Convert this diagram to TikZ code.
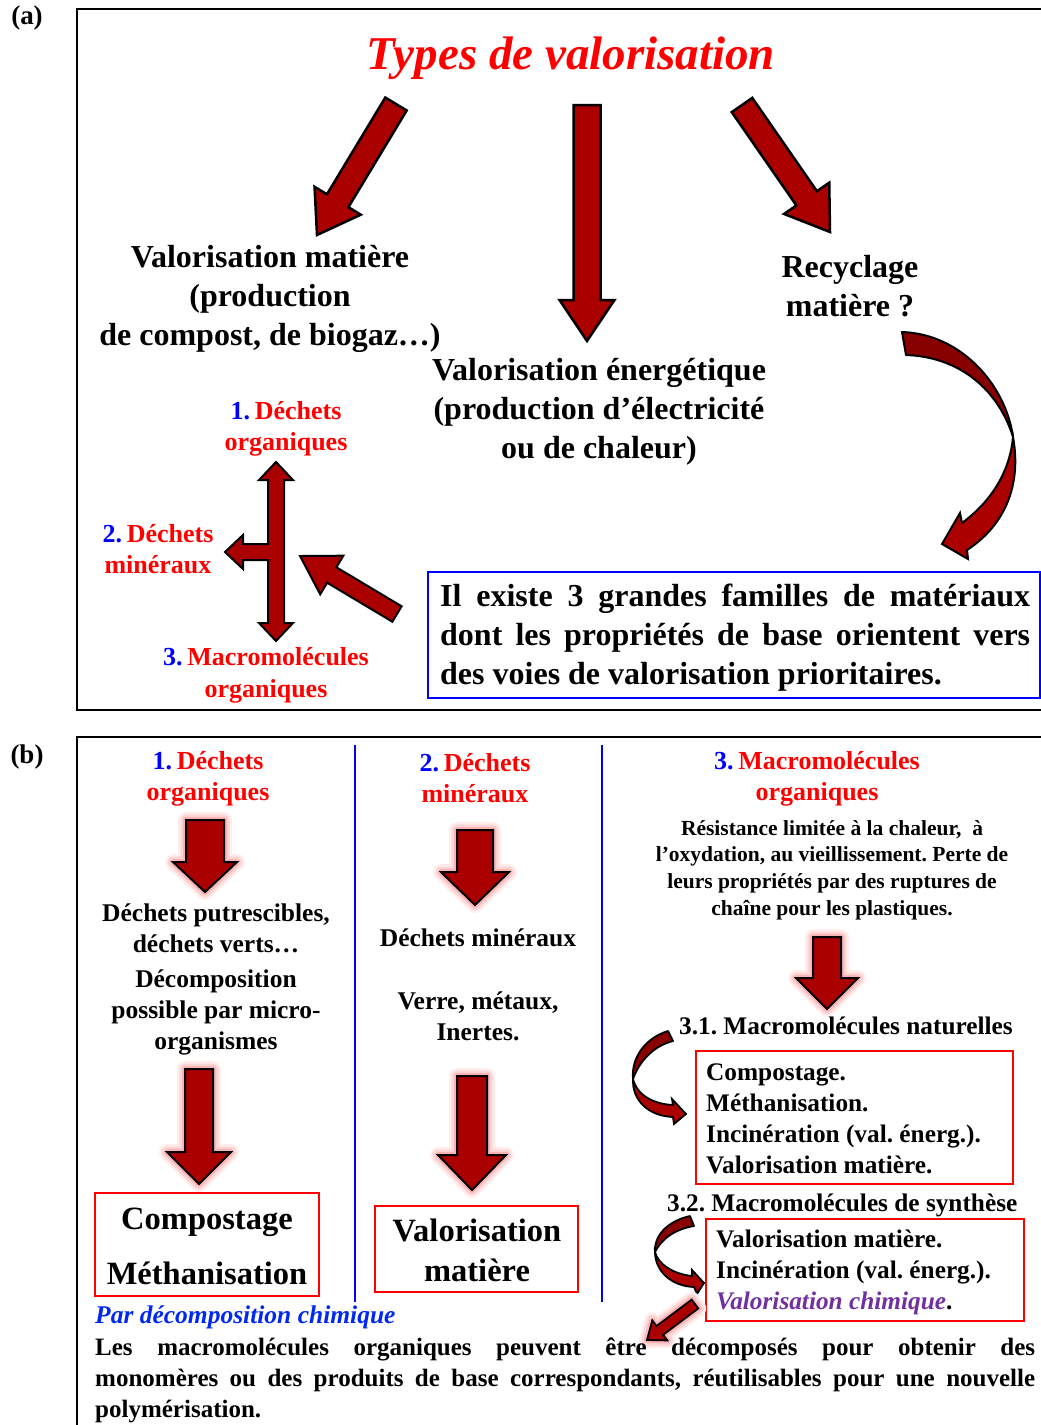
\documentclass[tikz,border=0pt]{standalone}
\usepackage{fontspec}
\setmainfont{Liberation Serif}
\usetikzlibrary{calc}
\frenchspacing

\definecolor{arrowred}{RGB}{170,0,0}
\definecolor{arrowdark}{RGB}{136,0,0}
\definecolor{txtred}{RGB}{255,0,0}
\definecolor{txtblue}{RGB}{0,0,255}
\definecolor{linkblue}{RGB}{0,40,240}
\definecolor{chimpurple}{RGB}{112,48,160}
\definecolor{glowA}{RGB}{255,236,236}
\definecolor{glowB}{RGB}{253,212,212}
\definecolor{glowC}{RGB}{250,180,180}

\newcommand{\nb}[1]{\textcolor{txtblue}{#1}\hspace{0.18em}}

% straight block arrow: [style]{from}{to}{half shaft}{half head}{head length}
\newcommand{\blockarrow}[6][]{%
  \path let \p1=($(#3)-(#2)$), \n1={atan2(\y1,\x1)}, \n2={veclen(\x1,\y1)} in
    \pgfextra{\xdef\baang{\n1}\xdef\balen{\n2}};
  \begin{scope}[shift={(#2)}, rotate=\baang]
    \path[arrowshape,#1] (0,#4) -- (\balen-#6,#4) -- (\balen-#6,#5) -- (\balen,0)
      -- (\balen-#6,-#5) -- (\balen-#6,-#4) -- (0,-#4) -- cycle;
  \end{scope}}

\begin{document}
\begin{tikzpicture}[x=1pt,y=-1pt,
  arrowshape/.style={fill=arrowred, draw=black, line width=2.5pt, line join=miter},
  thinarrow/.style={line width=2pt},
  glow/.style={preaction={draw=glowA, line width=16pt, line join=round},
               preaction={draw=glowB, line width=11pt, line join=round},
               preaction={draw=glowC, line width=6pt, line join=round}},
  frame/.style={draw=black, line width=1.5pt},
  redbox/.style={draw=red, line width=1.8pt},
  bluebox/.style={draw=txtblue, line width=2pt},
  panel/.style={font=\bfseries\fontsize{27}{32}\selectfont, inner sep=0pt},
  title/.style={font=\bfseries\itshape\fontsize{47}{54}\selectfont, text=txtred, inner sep=0pt},
  big/.style={font=\bfseries\fontsize{32}{39}\selectfont, align=center, inner sep=0pt},
  fam/.style={font=\bfseries\fontsize{26}{31}\selectfont, text=txtred, align=center, inner sep=0pt},
  mid/.style={font=\bfseries\fontsize{25.5}{31}\selectfont, align=center, inner sep=0pt},
  midl/.style={font=\bfseries\fontsize{25.3}{31}\selectfont, align=left, inner sep=0pt},
  small/.style={font=\bfseries\fontsize{21.5}{26.7}\selectfont, align=center, inner sep=0pt},
  boxbig/.style={font=\bfseries\fontsize{32.5}{40}\selectfont, align=center, inner sep=0pt},
]
\useasboundingbox (0,0) rectangle (1041,1425);
\clip (0,0) rectangle (1041,1425);

% ---------------- panel (a) ----------------
\draw[frame] (1060,9) -- (77,9) -- (77,710) -- (1060,710);
\node[panel] (pa) at (27,18) {(a)};
\node[title] (ttl) at (571,58) {Types de valorisation};

\coordinate (lA) at (396,104);  \coordinate (lB) at (317,235);
\coordinate (mA) at (587,105);  \coordinate (mB) at (587,341);
\coordinate (rA) at (742,105);  \coordinate (rB) at (830,232);
\blockarrow{lA}{lB}{12.5}{27}{40}
\blockarrow{mA}{mB}{13.5}{27.5}{41}
\blockarrow{rA}{rB}{12.5}{27.5}{41}

\node[big] (vmat) at (270,299) {Valorisation matière\\(production\\de compost, de biogaz…)};
\node[big] (recy) at (850,286) {Recyclage\\matière ?};
\node[big] (vene) at (599,412) {Valorisation énergétique\\(production d’électricité\\ou de chaleur)};

% curved ribbon arrow towards the box
\path[fill=arrowdark, draw=black, line width=2pt, line join=round]
  (902,332) .. controls (962,334) and (1006,386) .. (1013,437)
  .. controls (999,392) and (962,357) .. (906,355) -- cycle;
\path[fill=arrowred, draw=black, line width=2pt, line join=miter]
  (1013,437) .. controls (1022,486) and (1004,526) .. (967,550)
  -- (968,559) -- (942,544) -- (960,513) -- (962,523)
  .. controls (993,500) and (1010,470) .. (1013,437) -- cycle;

% three families
\node[fam] (f1) at (286,429) {\nb{1.}Déchets\\organiques};
\node[fam] (f2) at (158,549) {\nb{2.}Déchets\\minéraux};
\node[fam, font=\bfseries\fontsize{26}{32}\selectfont] (f3) at (266,675) {\nb{3.}Macromolécules\\organiques};

\path[arrowshape, line width=2pt]
  (276,462) -- (293,480) -- (284,480) -- (284,623) -- (293,623) -- (276,641)
  -- (259,623) -- (268,623) -- (268,560) -- (243,560) -- (243,569) -- (225,552)
  -- (243,535) -- (243,544) -- (268,544) -- (268,480) -- (259,480) -- cycle;

\coordinate (dA) at (397,614); \coordinate (dB) at (300,556);
\blockarrow[line width=2pt]{dA}{dB}{9}{22.5}{37}

\draw[bluebox] (428,572) rectangle (1040,698);
\node[font=\bfseries\fontsize{32}{39}\selectfont, text width=590, align=justify,
      inner sep=0pt, anchor=west] (fam3) at (440,638)
  {Il existe 3 grandes familles de matériaux\linebreak dont les propriétés de base orientent vers\linebreak des voies de valorisation prioritaires.};

% ---------------- panel (b) ----------------
\draw[frame] (1060,737) -- (77,737) -- (77,1440);
\node[panel] (pb) at (27,757) {(b)};
\draw[txtblue, line width=2pt] (355,745) -- (355,1302);
\draw[txtblue, line width=2pt] (602,745) -- (602,1302);

\node[fam] (g1) at (208,779) {\nb{1.}Déchets\\organiques};
\node[fam] (g2) at (475,778) {\nb{2.}Déchets\\minéraux};
\node[fam] (g3) at (817,779) {\nb{3.}Macromolécules\\organiques};

% column 1
\coordinate (c1a) at (205,820); \coordinate (c1b) at (205,892);
\blockarrow[glow,thinarrow]{c1a}{c1b}{19}{32}{30}
\node[mid] (p1) at (216,928) {Déchets putrescibles,\\déchets verts…};
\node[mid] (p2) at (216,1012) {Décomposition\\possible par micro-\\organismes};
\coordinate (c1c) at (199,1069); \coordinate (c1d) at (199,1184);
\blockarrow[glow,thinarrow]{c1c}{c1d}{14}{32}{32}
\draw[redbox] (95,1193) rectangle (319,1296);
\node[font=\bfseries\fontsize{32.5}{55}\selectfont, align=center, inner sep=0pt] (cm) at (207,1246) {Compostage\\Méthanisation};

% column 2
\coordinate (c2a) at (475,830); \coordinate (c2b) at (475,905);
\blockarrow[glow,thinarrow]{c2a}{c2b}{18}{34}{33}
\node[mid] (q1) at (478,938) {Déchets minéraux};
\node[mid] (q2) at (478,1016) {Verre, métaux,\\Inertes.};
\coordinate (c2c) at (472,1076); \coordinate (c2d) at (472,1190);
\blockarrow[glow,thinarrow]{c2c}{c2d}{15}{34}{35}
\draw[redbox] (375,1206) rectangle (578,1292);
\node[boxbig] (vm) at (477,1250) {Valorisation\\matière};

% column 3
\node[small] (r1) at (832,870) {Résistance limitée à la chaleur,\ \ à\\l’oxydation, au vieillissement. Perte de\\leurs propriétés par des ruptures de\\chaîne pour les plastiques.};
\coordinate (c3a) at (827,937); \coordinate (c3b) at (827,1009);
\blockarrow[glow,thinarrow]{c3a}{c3b}{14}{31}{31}

\node[midl, anchor=west] (s31) at (679,1026) {3.1. Macromolécules naturelles};
\draw[redbox] (696,1051) rectangle (1013,1184);
\node[midl, anchor=west] (b31) at (706,1119) {Compostage.\\Méthanisation.\\Incinération (val. énerg.).\\Valorisation matière.};

\node[midl, anchor=west] (s32) at (667,1205) {3.2. Macromolécules de synthèse};
\draw[redbox] (706,1219) rectangle (1024,1321);
\node[midl, anchor=west] (b32) at (716,1272) {Valorisation matière.\\Incinération (val. énerg.).\\\textcolor{chimpurple}{\itshape Valorisation chimique}.};

% small curved arrows
\path[fill=arrowdark, draw=black, line width=1.8pt, line join=round]
  (668,1031) .. controls (645,1038) and (631,1058) .. (633,1079)
  .. controls (639,1062) and (653,1046) .. (673,1041) -- cycle;
\path[fill=arrowred, draw=black, line width=1.8pt, line join=miter]
  (633,1079) .. controls (637,1095) and (653,1104) .. (673,1105)
  -- (672,1099) -- (686,1114) -- (674,1124) -- (673,1117)
  .. controls (648,1116) and (632,1100) .. (633,1079) -- cycle;

\path[fill=arrowdark, draw=black, line width=1.8pt, line join=round]
  (690,1216) .. controls (668,1221) and (654,1235) .. (655,1252)
  .. controls (662,1238) and (676,1229) .. (694,1226) -- cycle;
\path[fill=arrowred, draw=black, line width=1.8pt, line join=miter]
  (655,1252) .. controls (658,1264) and (673,1274) .. (692,1276)
  -- (692,1270) -- (704,1283) -- (697,1294) -- (694,1287)
  .. controls (670,1286) and (655,1270) .. (655,1252) -- cycle;

\coordinate (eA) at (695,1304); \coordinate (eB) at (647,1340);
\blockarrow[glow,line width=1.8pt]{eA}{eB}{5.5}{12.5}{16}

% chemical route
\node[font=\bfseries\itshape\fontsize{25.5}{31}\selectfont, text=linkblue, inner sep=0pt, anchor=west] (pdc) at (95,1317) {Par décomposition chimique};
\node[font=\bfseries\fontsize{25}{31}\selectfont, text width=940, align=justify, inner sep=0pt, anchor=west] (para) at (95,1380)
  {Les macromolécules organiques peuvent être décomposés pour obtenir des\linebreak monomères ou des produits de base correspondants, réutilisables pour une nouvelle\linebreak polymérisation.};
\end{tikzpicture}
\end{document}
